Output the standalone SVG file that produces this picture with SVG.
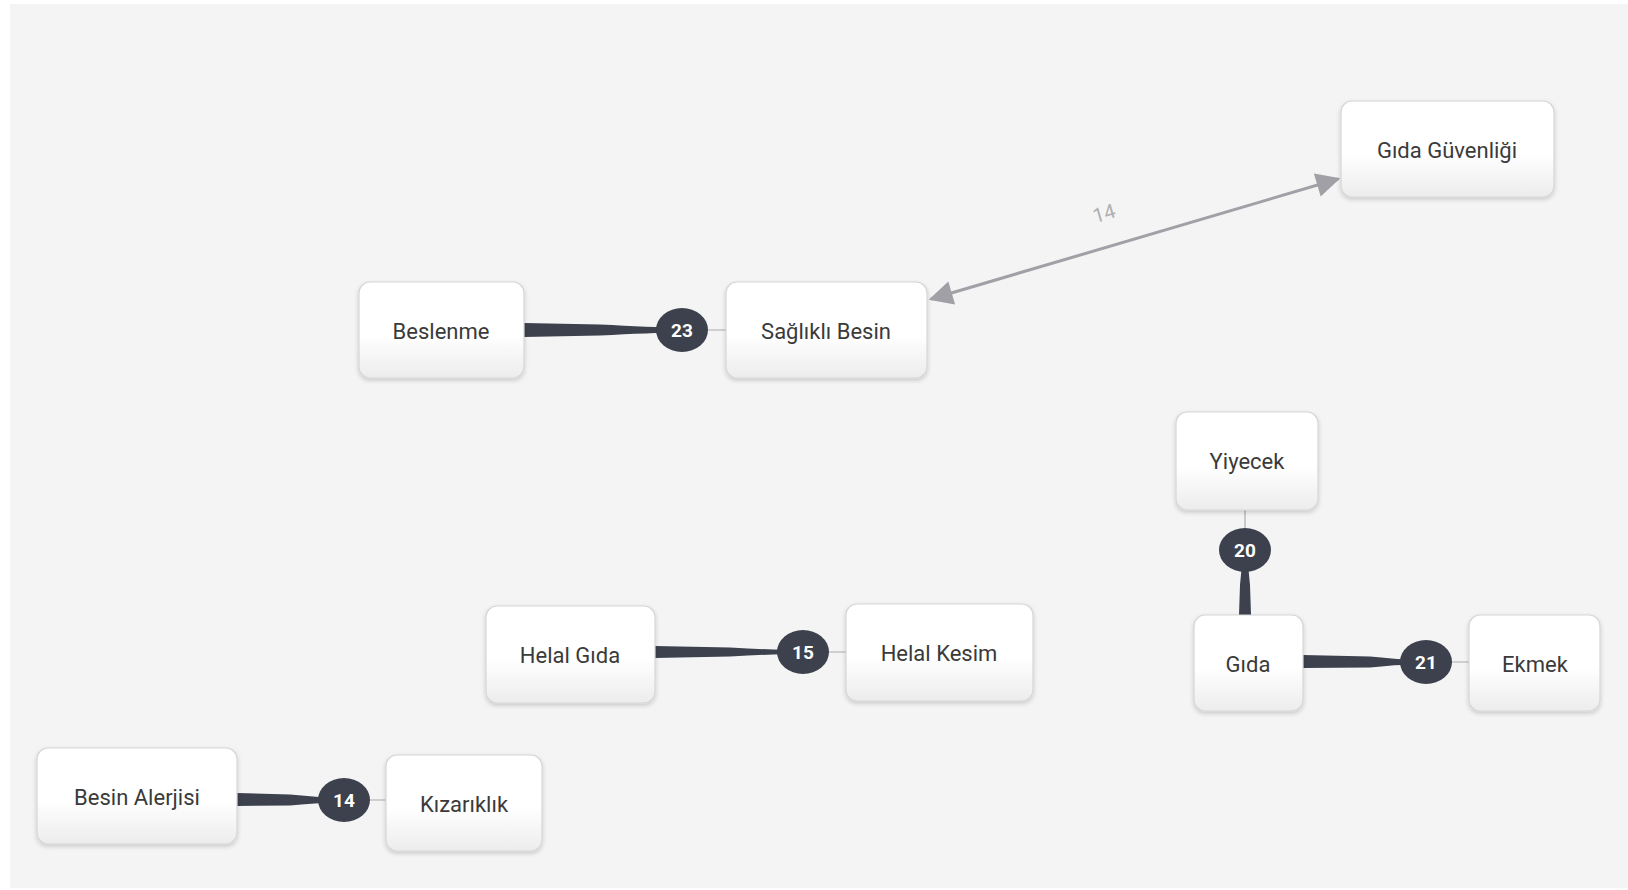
<svg xmlns="http://www.w3.org/2000/svg" width="1628" height="890" viewBox="0 0 1628 890">
<style>
.node rect.box{fill:url(#ng);stroke:#d6d6d6;stroke-width:1.2;filter:url(#sh)}
.node text{font-family:Roboto,"Liberation Sans",sans-serif;font-size:22px;fill:#3a3a3a;text-anchor:middle;dominant-baseline:central}
.badge ellipse{fill:#3c414d}
.badge text{font-family:Roboto,"Liberation Sans",sans-serif;font-size:19px;font-weight:bold;fill:#fff;text-anchor:middle;dominant-baseline:central}
.thin{stroke:#aaa;stroke-width:1.2;fill:none}
.taper{fill:#3c414d}
.arrow{stroke:#a0a0a6;stroke-width:3;fill:none}
</style>
<defs>
<linearGradient id="ng" x1="0" y1="0" x2="0" y2="1">
<stop offset="0" stop-color="#ffffff"/>
<stop offset="0.55" stop-color="#ffffff"/>
<stop offset="1" stop-color="#ececec"/>
</linearGradient>
<filter id="sh" x="-10%" y="-10%" width="120%" height="130%">
<feDropShadow dx="0" dy="2" stdDeviation="2" flood-color="#000" flood-opacity="0.18"/>
</filter>
<marker id="ah2" viewBox="0 0 10 10" refX="9" refY="5" markerWidth="28" markerHeight="24" markerUnits="userSpaceOnUse" orient="auto-start-reverse">
<path d="M0,0 L10,5 L0,10 z" fill="#a0a0a6"/>
</marker>
</defs>
<rect x="0" y="0" width="1628" height="890" fill="#ffffff"/>
<rect x="10" y="4" width="1618" height="884" fill="#f4f4f4"/>

<g id="connectors">
<line class="arrow" x1="931" y1="299" x2="1338" y2="179" marker-start="url(#ah2)" marker-end="url(#ah2)"/>
<text x="1106" y="220" transform="rotate(-16.4 1106 220)" font-family="Roboto,'Liberation Sans',sans-serif" font-size="20" fill="#b0b0b0" text-anchor="middle">14</text>
<path class="taper" d="M524,323 L600,324.5 Q650,327 682,328 L682,332 Q650,333 600,335.5 L524,337 z"/>
<line class="thin" x1="682" y1="330" x2="726" y2="330"/>
<path class="taper" d="M655,646 L730,647.5 Q775,650 803,650 L803,654 Q775,654 730,656.5 L655,658 z"/>
<line class="thin" x1="803" y1="652" x2="846" y2="652"/>
<path class="taper" d="M237,793 L290,794.5 Q320,797.5 344,798 L344,802 Q320,802.5 290,805.5 L237,806 z"/>
<line class="thin" x1="344" y1="800" x2="386" y2="800"/>
<path class="taper" d="M1303,655 L1370,656.5 Q1405,660 1426,660 L1426,664 Q1405,664 1370,667.5 L1303,668 z"/>
<line class="thin" x1="1426" y1="662" x2="1469" y2="662"/>
<path class="taper" d="M1239,615 L1240,585 Q1242,565 1243,550 L1247,550 Q1248,565 1250,585 L1251,615 z"/>
<line class="thin" x1="1245" y1="550" x2="1245" y2="510"/>
</g>

<g id="badges">
<g class="badge" id="b23"><ellipse cx="682" cy="330" rx="26" ry="22"/><text x="682" y="330">23</text></g>
<g class="badge" id="b15"><ellipse cx="803" cy="652" rx="26" ry="22"/><text x="803" y="652">15</text></g>
<g class="badge" id="b14"><ellipse cx="344" cy="800" rx="26" ry="22"/><text x="344" y="800">14</text></g>
<g class="badge" id="b21"><ellipse cx="1426" cy="662" rx="26" ry="22"/><text x="1426" y="662">21</text></g>
<g class="badge" id="b20"><ellipse cx="1245" cy="550" rx="26" ry="22"/><text x="1245" y="550">20</text></g>
</g>

<g id="n-gidaguvenligi" class="node"><rect class="box" x="1341" y="101" width="213" height="96" rx="11"/><text x="1447" y="150">Gıda Güvenliği</text></g>
<g id="n-saglikli" class="node"><rect class="box" x="726" y="282" width="201" height="96" rx="11"/><text x="826" y="331">Sağlıklı Besin</text></g>
<g id="n-beslenme" class="node"><rect class="box" x="359" y="282" width="165" height="96" rx="11"/><text x="441" y="331">Beslenme</text></g>
<g id="n-yiyecek" class="node"><rect class="box" x="1176" y="412" width="142" height="98" rx="11"/><text x="1247" y="461">Yiyecek</text></g>
<g id="n-gida" class="node"><rect class="box" x="1194" y="615" width="109" height="96" rx="11"/><text x="1248" y="664">Gıda</text></g>
<g id="n-ekmek" class="node"><rect class="box" x="1469" y="615" width="131" height="96" rx="11"/><text x="1535" y="664">Ekmek</text></g>
<g id="n-helalgida" class="node"><rect class="box" x="486" y="606" width="169" height="97" rx="11"/><text x="570" y="655">Helal Gıda</text></g>
<g id="n-helalkesim" class="node"><rect class="box" x="846" y="604" width="187" height="97" rx="11"/><text x="939" y="653">Helal Kesim</text></g>
<g id="n-besinalerjisi" class="node"><rect class="box" x="37" y="748" width="200" height="96" rx="11"/><text x="137" y="797">Besin Alerjisi</text></g>
<g id="n-kizariklik" class="node"><rect class="box" x="386" y="755" width="156" height="96" rx="11"/><text x="464" y="804">Kızarıklık</text></g>
</svg>
